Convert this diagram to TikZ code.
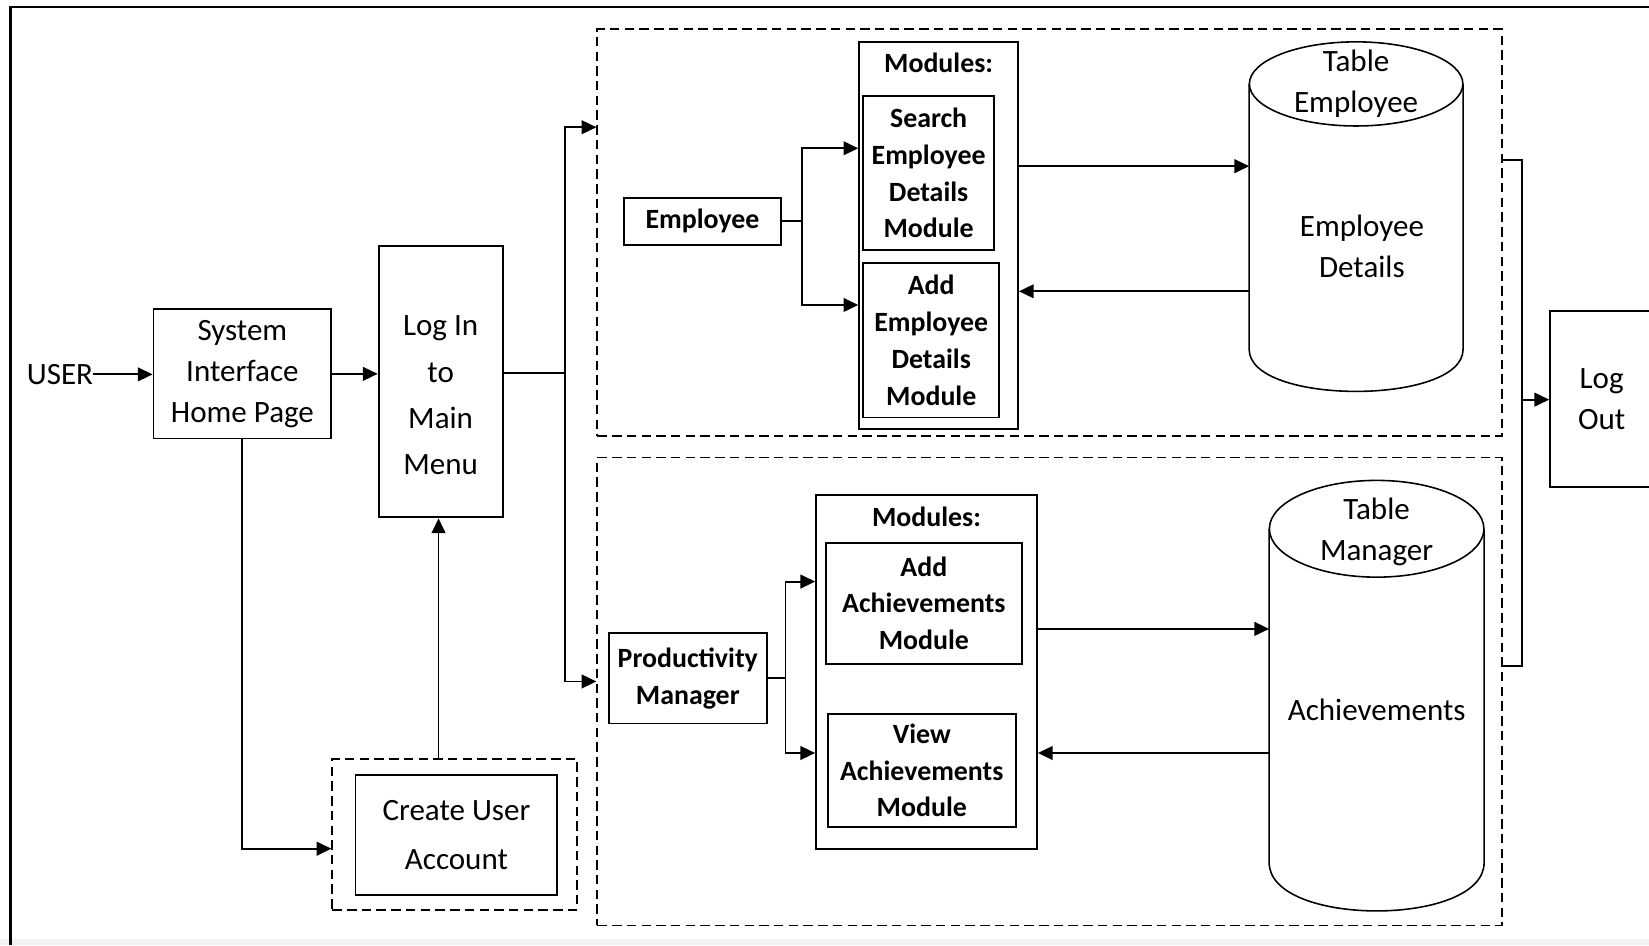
\documentclass[tikz,border=0pt]{standalone}
\usepackage{fontspec}
\setmainfont{Carlito}
\usetikzlibrary{arrows.meta,positioning,calc}
\newcommand\reg{\fontsize{29.5}{39}\selectfont}
\newcommand\bld{\fontsize{26.5}{35}\selectfont\bfseries}
\tikzset{
  blok/.style={draw,line width=1.8pt,inner sep=0pt,align=center,font=\reg},
  modul/.style={blok,font=\bld},
  keret/.style={draw,line width=1.8pt,dash pattern=on 9pt off 5pt,inner sep=0pt},
  henger/.style={inner sep=0pt},
  hvonal/.style={line width=1.5pt},
  felirat/.style={align=center,font=\reg,inner sep=0pt},
  vonal/.style={line width=1.8pt},
  nyil/.style={-{Triangle[length=14pt,width=13pt]},line width=1.8pt},
}

\begin{document}
\begin{tikzpicture}[x=1pt,y=-1pt]
  \useasboundingbox (0,0) rectangle (1568,899);
  \fill[black!5] (0,893) rectangle (1568,899);
  \draw[line width=2pt] (10,899) -- (10,7) -- (1568,7);

  % left part
  \node[felirat] (user) at (57,356) {USER};
  \node[blok,minimum width=169pt,minimum height=123pt] (sys) at (230.5,355.5) {System\\Interface\\Home Page};
  \node[blok,minimum width=118pt,minimum height=258pt] (login) at (419,363) {};
  \node[felirat,font={\fontsize{29.5}{44}\selectfont}] at (419,376) {Log In\\to\\Main\\Menu};
  \node[keret,minimum width=233pt,minimum height=143pt] (acct) at (432.5,793.5) {};
  \node[blok,minimum width=192pt,minimum height=114pt,font={\fontsize{29.5}{46}\selectfont}] (create) at (434,794) {Create User\\Account};

  \draw[nyil] (user) -- (user -| sys.west);
  \draw[nyil] (sys.east) -- (sys.east -| login.west);
  \draw[nyil] (sys.south) |- (acct.west |- 0,807);
  \draw[nyil] (acct.north -| 417,0) -- (login.south -| 417,0);
  \coordinate (sp) at (537,355);
  \draw[vonal] (login.east |- sp) -- (sp);

  % employee part
  \node[keret,minimum width=860pt,minimum height=387pt] (up) at (998,221.5) {};
  \node[modul,minimum width=150pt,minimum height=45pt] (emp) at (668,210.5) {Employee};
  \node[blok,minimum width=151pt,minimum height=368pt,
        label={[font=\bld,anchor=north,yshift=-8pt]north:Modules:}] (modE) at (892.5,224) {};
  \node[modul,minimum width=124pt,minimum height=147pt] (search) at (883,164.5) {Search\\Employee\\Details\\Module};
  \node[modul,minimum width=129pt,minimum height=147pt] (addE) at (885.5,323.5) {Add\\Employee\\Details\\Module};
  \node[henger,minimum width=203pt,minimum height=332pt] (tabE) at (1289.5,206) {};
  \draw[hvonal] ($(tabE.north)+(0,40)$) ellipse [x radius=101.5,y radius=40];
  \draw[hvonal] ($(tabE.north west)+(0,40)$) -- ($(tabE.south west)+(0,-40)$)
    .. controls +(0,53.3) and +(0,53.3) .. ($(tabE.south east)+(0,-40)$) -- ($(tabE.north east)+(0,40)$);
  \node[felirat] at (1289.5,79.5) {Table\\Employee};
  \node[felirat] at (1295,234) {Employee\\Details};

  \draw[nyil] (sp) |- (up.west |- 0,121);
  \draw[vonal] (emp.east) -- ++(19,0) coordinate (es);
  \draw[nyil] (es) |- (modE.west |- 0,141);
  \draw[nyil] (es) |- (modE.west |- 0,290);
  \draw[nyil] (modE.east |- 0,158) -- (tabE.west |- 0,158);
  \draw[nyil] (tabE.west |- 0,277) -- (modE.east |- 0,277);

  % manager part
  \node[keret,minimum width=860pt,minimum height=445pt] (lo) at (998,657.5) {};
  \node[modul,minimum width=150pt,minimum height=86pt] (prod) at (654,645) {Productivity\\Manager};
  \node[blok,minimum width=210pt,minimum height=336pt,
        label={[font=\bld,anchor=north,yshift=-8pt]north:Modules:}] (modA) at (881,639) {};
  \node[modul,minimum width=187pt,minimum height=115pt] (addA) at (878.5,573.5) {Add\\Achievements\\Module};
  \node[modul,minimum width=179pt,minimum height=107pt] (viewA) at (876.5,732.5) {View\\Achievements\\Module};
  \node[henger,minimum width=204pt,minimum height=409pt] (tabM) at (1309,661.5) {};
  \draw[hvonal] ($(tabM.north)+(0,46)$) ellipse [x radius=102,y radius=46];
  \draw[hvonal] ($(tabM.north west)+(0,46)$) -- ($(tabM.south west)+(0,-46)$)
    .. controls +(0,61.3) and +(0,61.3) .. ($(tabM.south east)+(0,-46)$) -- ($(tabM.north east)+(0,46)$);
  \node[felirat] at (1309,505.5) {Table\\Manager};
  \node[felirat] at (1309,675) {Achievements};

  \draw[nyil] (sp) |- (lo.west |- 0,648);
  \draw[vonal] (prod.east) -- ++(17,0) coordinate (ps);
  \draw[nyil] (ps) |- (modA.west |- 0,553);
  \draw[nyil] (ps) |- (modA.west |- 0,716);
  \draw[nyil] (modA.east |- 0,598) -- (tabM.west |- 0,598);
  \draw[nyil] (tabM.west |- 0,716) -- (modA.east |- 0,716);

  % log out
  \node[blok,minimum width=98pt,minimum height=167pt] (logout) at (1523,379.5) {Log\\Out};
  \coordinate (lb) at (1447,380);
  \draw[vonal] (up.east |- 0,152) -| (lb) |- (lo.east |- 0,633);
  \draw[nyil] (lb) -- (logout.west |- lb);
\end{tikzpicture}
\end{document}
